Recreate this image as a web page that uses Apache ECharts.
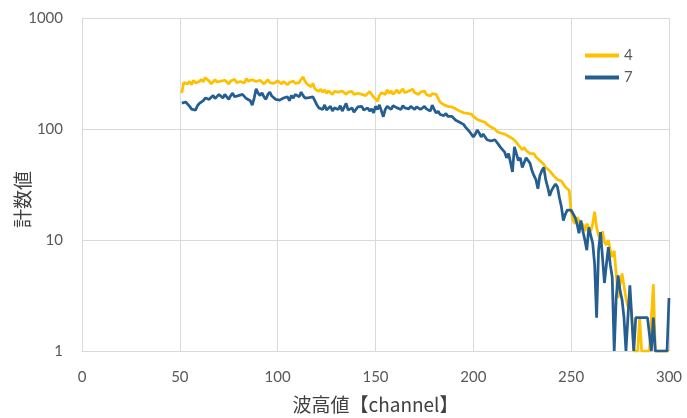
<!DOCTYPE html>
<html>
<head>
<meta charset="utf-8">
<script src="https://cdn.jsdelivr.net/npm/echarts@6/dist/echarts.min.js"></script>
<style>html,body{margin:0;padding:0;background:#fff}#c{width:687px;height:418px}</style>
</head>
<body>
<div id="c"></div>
<script>
// channel numbers 51..300
const startChannel = 51;
const series4 = [
  211, 262, 270, 255, 268, 250, 275, 260, 252, 268,
  280, 265, 290, 300, 270, 255, 262, 278, 265, 258,
  270, 260, 275, 268, 255, 270, 265, 280, 262, 272,
  268, 275, 260, 285, 270, 265, 278, 272, 268, 262,
  275, 268, 255, 265, 278, 262, 270, 258, 265, 272,
  262, 255, 268, 260, 250, 262, 255, 270, 258, 248,
  262, 280, 295, 268, 255, 250, 240, 258, 230, 222,
  218, 228, 215, 225, 210, 220, 212, 205, 218, 210,
  215, 208, 220, 212, 205, 215, 210, 218, 205, 200,
  210, 215, 205, 212, 200, 208, 218, 205, 195, 190,
  178, 200, 212, 215, 205, 225, 210, 220, 205, 215,
  225, 210, 218, 230, 212, 205, 220, 215, 228, 212,
  218, 205, 215, 210, 220, 205, 212, 198, 208, 215,
  205, 198, 175, 170, 165, 168, 160, 162, 158, 155,
  152, 150, 145, 148, 140, 142, 138, 134, 136, 130,
  128, 122, 125, 118, 120, 115, 110, 112, 104, 106,
  100, 95, 98, 92, 94, 90, 88, 86, 85, 82,
  80, 76, 72, 70, 65, 68, 64, 62, 60, 58,
  60, 56, 58, 52, 50, 48, 45, 46, 42, 40,
  38, 37, 35, 36, 34, 32, 30, 31, 28, 18,
  15, 14, 16, 15, 13, 14, 12, 14, 13, 12,
  14, 18, 13, 11, 10, 12, 9.6, 9, 10, 8,
  7, 8, 5, 3, 4, 5, 4.8, 3, 2.5, 3,
  2, 1, 1, 1, 2, 1, 1, 1, 1, 1,
  2, 4, 1, 1, 1, 1, 1, 1, 1, 1
];
const series7 = [
  171, 165, 175, 168, 160, 151, 155, 148, 162, 170,
  175, 180, 190, 195, 185, 192, 200, 188, 195, 205,
  198, 190, 205, 195, 185, 200, 210, 195, 188, 200,
  192, 205, 198, 188, 195, 180, 164, 190, 230, 210,
  200, 212, 195, 185, 205, 215, 198, 190, 185, 182,
  182, 175, 190, 185, 195, 180, 200, 190, 205, 198,
  195, 215, 200, 190, 185, 192, 188, 195, 180, 165,
  155, 160, 150, 165, 148, 152, 160, 145, 155, 158,
  150, 162, 145, 140, 170, 148, 150, 155, 142, 150,
  158, 152, 160, 148, 150, 155, 145, 152, 140, 160,
  150, 165, 171, 129, 150, 160, 155, 150, 162, 158,
  155, 160, 150, 162, 155, 158, 152, 160, 155, 150,
  158, 152, 150, 155, 160, 152, 150, 145, 164, 150,
  139, 145, 135, 140, 132, 138, 130, 128, 130, 125,
  120, 122, 115, 118, 110, 104, 108, 95, 92, 85,
  90, 98, 92, 85, 90, 88, 80, 82, 78, 75,
  80, 76, 72, 68, 70, 62, 55, 60, 50, 41,
  69, 60, 52, 55, 45, 50, 55, 52, 49, 42,
  38, 35, 29, 38, 42, 45, 35, 30, 25, 28,
  30, 32, 30, 24, 20, 15, 17, 18.6, 19, 18.6,
  18, 16, 14, 11.5, 15, 12, 10, 8.1, 13, 11,
  9.4, 6, 2, 8, 11.8, 7, 4.1, 6, 8.6, 6,
  4.6, 1, 3, 4.8, 3.5, 2.9, 2, 1, 2, 3.9,
  3.8, 1, 2, 2, 2, 2, 2, 2, 2, 2,
  1, 2, 1, 1, 1, 1, 1, 1, 1, 3
];
const seriesNames = ['4', '7'];
const seriesColors = ['#FFC000', '#255E91'];
const xTicks = [0, 50, 100, 150, 200, 250, 300];
const yTicks = [1, 10, 100, 1000];
const xName = '波高値【channel】';
const yName = '計数値';

function pairs(arr) { return arr.map((v, i) => [startChannel + i, v]); }

const numFont = 'Lato, "Liberation Sans", sans-serif';
const cjkFont = '"Noto Sans CJK JP", sans-serif';
const chart = echarts.init(document.getElementById('c'));
chart.setOption({
  animation: false,
  backgroundColor: '#ffffff',
  grid: { left: 82, right: 18, top: 18, bottom: 67, containLabel: false, outerBoundsMode: 'none' },
  legend: {
    orient: 'vertical', left: 580, top: 43,
    icon: 'rect', itemWidth: 34, itemHeight: 4, itemGap: 7,
    data: seriesNames,
    textStyle: { color: '#595959', fontSize: 15, fontFamily: numFont }
  },
  xAxis: {
    type: 'value', min: xTicks[0], max: xTicks[xTicks.length - 1], interval: 50,
    name: xName, nameLocation: 'middle', nameGap: 44, nameMoveOverlap: false,
    nameTextStyle: { color: '#404040', fontSize: 19, fontFamily: cjkFont },
    axisLine: { show: true, lineStyle: { color: '#d9d9d9', width: 1 } },
    axisTick: { show: false },
    axisLabel: { color: '#595959', fontSize: 15, fontFamily: numFont, margin: 19 },
    splitLine: { show: true, lineStyle: { color: '#d9d9d9', width: 1 } }
  },
  yAxis: {
    type: 'log', logBase: 10, min: yTicks[0], max: yTicks[yTicks.length - 1],
    name: yName, nameLocation: 'middle', nameGap: 50, nameRotate: 90, nameMoveOverlap: false,
    nameTextStyle: { color: '#404040', fontSize: 19, fontFamily: cjkFont, padding: [0, 30, 0, 0] },
    axisLine: { show: true, lineStyle: { color: '#d9d9d9', width: 1 } },
    axisTick: { show: false },
    minorTick: { show: false },
    axisLabel: { color: '#595959', fontSize: 15, fontFamily: numFont, margin: 19,
      formatter: v => String(Math.round(v)) },
    splitLine: { show: true, lineStyle: { color: '#d9d9d9', width: 1 } }
  },
  series: [
    { name: seriesNames[0], type: 'line', data: pairs(series4), showSymbol: false, symbol: 'none',
      lineStyle: { color: seriesColors[0], width: 2.75 }, itemStyle: { color: seriesColors[0] } },
    { name: seriesNames[1], type: 'line', data: pairs(series7), showSymbol: false, symbol: 'none',
      lineStyle: { color: seriesColors[1], width: 2.75 }, itemStyle: { color: seriesColors[1] } }
  ]
});
</script>
</body>
</html>
